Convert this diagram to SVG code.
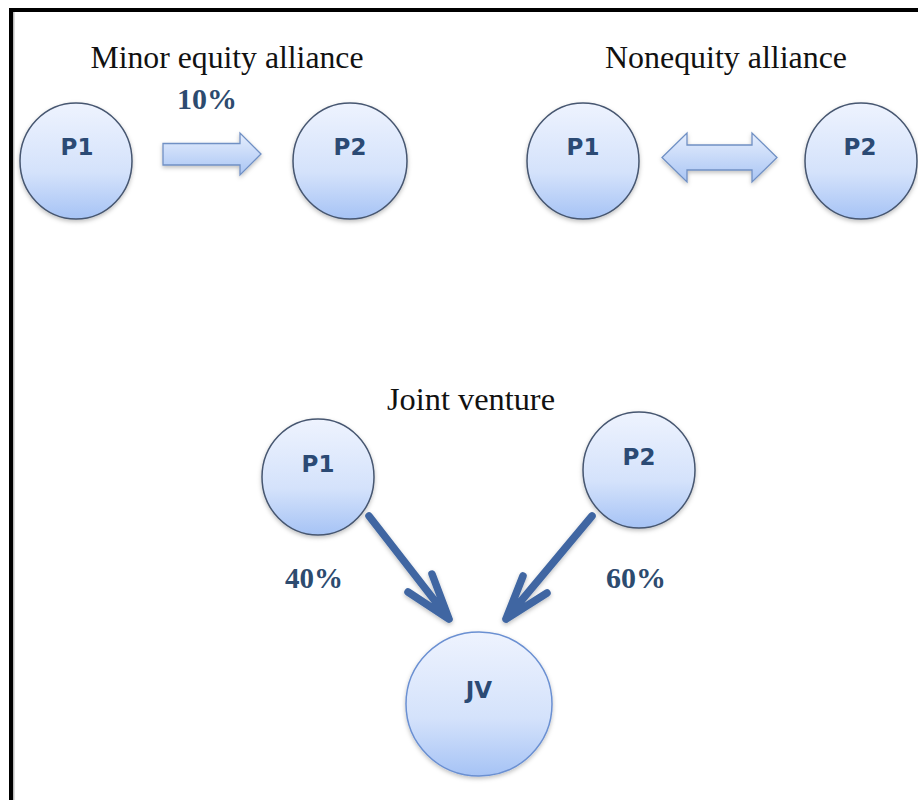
<svg xmlns="http://www.w3.org/2000/svg" width="918" height="800" viewBox="0 0 918 800">
<defs>
<linearGradient id="cg" x1="0" y1="0" x2="0" y2="1">
<stop offset="0" stop-color="#eef3fe"/>
<stop offset="0.6" stop-color="#d4e2fb"/>
<stop offset="1" stop-color="#a6c3f5"/>
</linearGradient>
<linearGradient id="ag" x1="0" y1="0" x2="0" y2="1">
<stop offset="0" stop-color="#e6eefd"/>
<stop offset="1" stop-color="#a9c5f4"/>
</linearGradient>
<filter id="sh" x="-20%" y="-20%" width="140%" height="140%">
<feDropShadow dx="0" dy="2" stdDeviation="2" flood-color="#000" flood-opacity="0.25"/>
</filter>
</defs>
<style>
.node ellipse{fill:url(#cg);stroke:#465670;stroke-width:1.5;filter:url(#sh)}
.node.jv ellipse{stroke:#6b90d2}
.lbl{font-family:"DejaVu Sans",Verdana,sans-serif;font-weight:bold;font-size:23px;fill:#2b4a74;text-anchor:middle}
.title{font-family:"Liberation Serif","Times New Roman",serif;font-size:31px;fill:#111;text-anchor:middle}
.pct{font-family:"Liberation Serif","Times New Roman",serif;font-weight:bold;font-size:29px;fill:#2d4b6f;text-anchor:middle}
.blk{fill:url(#ag);stroke:#7090c4;stroke-width:1.3;filter:url(#sh)}
.ln{fill:none;stroke:#3f66a2;stroke-width:7.5;stroke-linecap:round;stroke-linejoin:round;filter:url(#sh)}
</style>
<rect width="918" height="800" fill="#fff"/>
<rect x="9" y="8" width="909" height="4" fill="#000"/>
<rect x="9" y="8" width="4" height="792" fill="#000"/>
<rect x="13" y="12" width="1.5" height="788" fill="#bbb"/>

<text class="title" x="227" y="68" textLength="273" lengthAdjust="spacingAndGlyphs">Minor equity alliance</text>
<text class="title" x="726" y="68" textLength="242" lengthAdjust="spacingAndGlyphs">Nonequity alliance</text>
<text class="title" x="471" y="410" textLength="168" lengthAdjust="spacingAndGlyphs">Joint venture</text>

<g id="minor-p1" class="node"><ellipse cx="76" cy="161" rx="56" ry="58"/><text class="lbl" x="77" y="155">P1</text></g>
<g id="minor-p2" class="node"><ellipse cx="350" cy="161" rx="57" ry="58"/><text class="lbl" x="350" y="155">P2</text></g>
<g id="non-p1" class="node"><ellipse cx="583" cy="161" rx="56" ry="58"/><text class="lbl" x="583" y="155">P1</text></g>
<g id="non-p2" class="node"><ellipse cx="861" cy="161" rx="56" ry="58"/><text class="lbl" x="860" y="155">P2</text></g>
<g id="jv-p1" class="node"><ellipse cx="318" cy="477" rx="56" ry="58"/><text class="lbl" x="318" y="472">P1</text></g>
<g id="jv-p2" class="node"><ellipse cx="639" cy="470" rx="56" ry="58"/><text class="lbl" x="639" y="465">P2</text></g>
<g id="jv" class="node jv"><ellipse cx="479" cy="704" rx="73" ry="72"/><text class="lbl" x="479" y="698">JV</text></g>

<g id="connectors">
<polygon class="blk" points="163,143.5 240,143.5 240,133 261,154 240,175 240,165 163,165"/>
<polygon class="blk" points="662,157.5 687,133 687,145 752,145 752,133 777,157.5 752,182 752,170 687,170 687,182"/>
<path class="ln" d="M369,516 L449,619 M432,574 L449,619 L408,592"/>
<path class="ln" d="M592,516 L506,619 M523,576 L506,619 L547,593"/>
</g>

<text class="pct" x="207" y="109" textLength="60" lengthAdjust="spacingAndGlyphs">10%</text>
<text class="pct" x="314" y="588" textLength="58" lengthAdjust="spacingAndGlyphs">40%</text>
<text class="pct" x="636" y="588" textLength="60" lengthAdjust="spacingAndGlyphs">60%</text>
</svg>
